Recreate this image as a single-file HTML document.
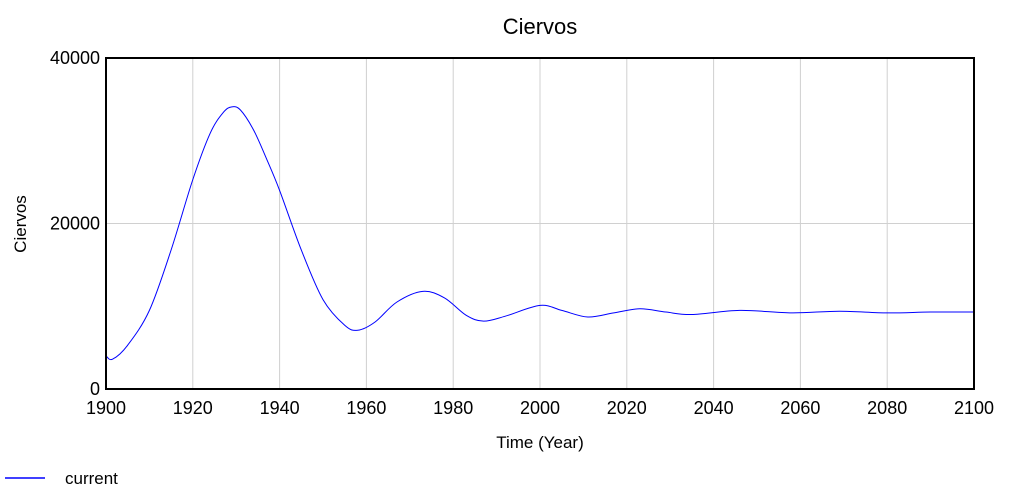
<!DOCTYPE html>
<html><head><meta charset="utf-8"><style>
body{margin:0;background:#fff;width:1013px;height:496px;overflow:hidden;font-family:"Liberation Sans",Arial,sans-serif}
svg text{font-family:"Liberation Sans",Arial,sans-serif}
</style></head><body>
<svg id="chart" width="1013" height="496">
<text x="540" y="34" font-size="22" text-anchor="middle">Ciervos</text>
<g id="grid"></g>
<g id="ticks"></g>
<path id="line" fill="none" stroke="#0000ff" stroke-width="1"></path>
<rect x="106" y="58" width="868" height="331" fill="none" stroke="#000" stroke-width="2"/>
<text x="540" y="448" font-size="17" text-anchor="middle">Time (Year)</text>
<text transform="translate(26,224) rotate(-90)" font-size="17" text-anchor="middle">Ciervos</text>
<g>
<line x1="5" y1="478" x2="45" y2="478" stroke="#0000ff" stroke-width="1.5"/>
<text x="65" y="484" font-size="17">current</text>
</g>
</svg>
<script>
const years=[1900,1901.5,1905,1910,1915,1920,1924,1927,1929,1931,1934,1937,1940,1945,1950,1955,1958,1962,1967,1973,1978,1983,1987,1992,2000,2005,2011,2017,2023,2029,2035,2046,2058,2069,2080,2090,2100];
const values=[4000,3600,5300,9500,16800,25300,30900,33400,34100,33700,31300,27800,24000,16800,10800,7700,7100,8100,10500,11800,11000,8900,8200,8800,10100,9500,8700,9200,9700,9300,9000,9500,9200,9400,9200,9300,9300];
const xTicks=[1900,1920,1940,1960,1980,2000,2020,2040,2060,2080,2100];
const yTicks=[0,20000,40000];
const X0=106,X1=974,Y0=389,Y1=58;
const sx=v=>X0+(v-1900)/200*(X1-X0);
const sy=v=>Y0-v/40000*(Y0-Y1);
const NS='http://www.w3.org/2000/svg';
const grid=document.getElementById('grid'),ticks=document.getElementById('ticks');
xTicks.forEach(t=>{
 const l=document.createElementNS(NS,'line');
 l.setAttribute('x1',sx(t));l.setAttribute('x2',sx(t));l.setAttribute('y1',Y1);l.setAttribute('y2',Y0);
 l.setAttribute('stroke','#d0d0d0');
 
 
 grid.appendChild(l);
 const tx=document.createElementNS(NS,'text');
 tx.setAttribute('x',sx(t));tx.setAttribute('y',414);tx.setAttribute('font-size','18');tx.setAttribute('text-anchor','middle');
 tx.textContent=t;
 
 
 ticks.appendChild(tx);
});
yTicks.forEach(t=>{
 const l=document.createElementNS(NS,'line');
 l.setAttribute('x1',X0);l.setAttribute('x2',X1);l.setAttribute('y1',sy(t));l.setAttribute('y2',sy(t));
 l.setAttribute('stroke','#d0d0d0');
 
 
 grid.appendChild(l);
 const tx=document.createElementNS(NS,'text');
 tx.setAttribute('x',100);tx.setAttribute('y',sy(t)+6);tx.setAttribute('font-size','18');tx.setAttribute('text-anchor','end');
 tx.textContent=t;
 
 
 ticks.appendChild(tx);
});
const pts=years.map((y,i)=>[sx(y),sy(values[i])]);
let d='M'+pts[0][0]+','+pts[0][1];
for(let i=0;i<pts.length-1;i++){
 const p0=pts[Math.max(0,i-1)],p1=pts[i],p2=pts[i+1],p3=pts[Math.min(pts.length-1,i+2)];
 const c1=[p1[0]+(p2[0]-p0[0])/6,p1[1]+(p2[1]-p0[1])/6];
 const c2=[p2[0]-(p3[0]-p1[0])/6,p2[1]-(p3[1]-p1[1])/6];
 d+=` C${c1[0]},${c1[1]} ${c2[0]},${c2[1]} ${p2[0]},${p2[1]}`;
}
document.getElementById('line').setAttribute('d',d);
</script>
</body></html>
